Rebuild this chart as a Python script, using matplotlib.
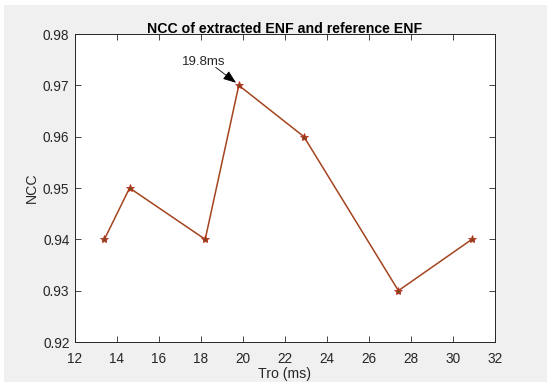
import matplotlib.pyplot as plt
from matplotlib.patches import Rectangle

# values
tro_ms = [13.4, 14.6, 18.2, 19.8, 22.9, 27.4, 30.9]
ncc = [0.94, 0.95, 0.94, 0.97, 0.96, 0.93, 0.94]
x_ticks = [12, 14, 16, 18, 20, 22, 24, 26, 28, 30, 32]
y_ticks = [0.92, 0.93, 0.94, 0.95, 0.96, 0.97, 0.98]
peak_label = "19.8ms"

plt.rcParams["font.family"] = ["Liberation Sans", "DejaVu Sans"]

fig = plt.figure(figsize=(5.5, 3.87), dpi=100, facecolor="white")
# grey MATLAB figure panel, kept behind the axes
fig.add_artist(Rectangle((4 / 550, 1 - 382 / 387), 543 / 550, 377 / 387,
                         transform=fig.transFigure, facecolor="#f0f0f0",
                         edgecolor="none", zorder=-10))

ax = fig.add_axes([75 / 550, 1 - 342 / 387, 420 / 550, 308 / 387])
ax.set_zorder(1)
ax.set_facecolor("white")
ax.plot(tro_ms, ncc, "-", color="#a4441e", lw=1.1, zorder=2)
ax.plot(tro_ms, ncc, "*", color="#7a4a1c", mec="#c0301f", ms=6, mew=0.6, zorder=3)

ax.set_xlim(12, 32)
ax.set_ylim(0.92, 0.98)
ax.set_xticks(x_ticks)
ax.set_yticks(y_ticks)
ax.set_xticklabels([str(t) for t in x_ticks])
ax.set_yticklabels([f"{t:.2f}" for t in y_ticks])
ax.tick_params(direction="in", length=4, width=0.6, colors="#262626",
               labelsize=9.8, top=True, right=True)
ax.tick_params(axis="x", pad=7)
ax.tick_params(axis="y", pad=4)
for s in ax.spines.values():
    s.set_color("#262626")
    s.set_linewidth(0.7)

ax.set_xlabel("Tro (ms)", fontsize=10.2, color="#262626", labelpad=1)
ax.set_ylabel("NCC", fontsize=10.2, color="#262626", labelpad=3)
ax.set_title("NCC of extracted ENF and reference ENF", fontsize=10.2,
             fontweight="bold", color="black", pad=1)

i = ncc.index(max(ncc))
ax.text(18.15, 0.9745, peak_label, fontsize=9.5, ha="center", va="center",
        color="#262626")
ax.annotate("", xy=(tro_ms[i] - 0.13, ncc[i] + 0.0005), xytext=(18.7, 0.9735),
            arrowprops=dict(arrowstyle="-|>,head_length=0.8,head_width=0.3",
                            color="black", lw=0.6, shrinkA=0, shrinkB=0))

fig.savefig("out.png", dpi=100, facecolor="white")
